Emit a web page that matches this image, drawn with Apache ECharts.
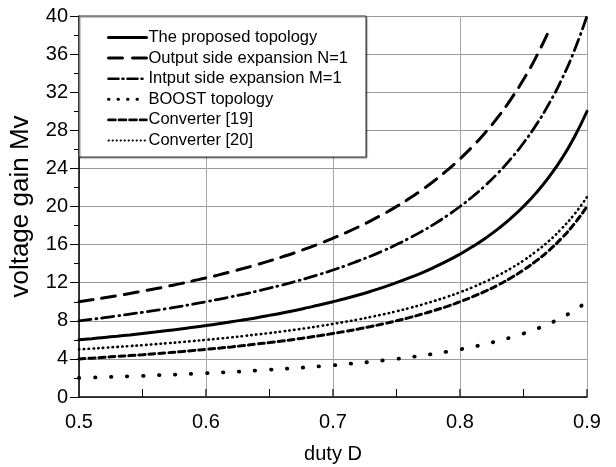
<!DOCTYPE html>
<html>
<head>
<meta charset="UTF-8">
<title>voltage gain</title>
<script src="https://cdn.jsdelivr.net/npm/echarts@6/dist/echarts.min.js"></script>
<style>
  html, body { margin: 0; padding: 0; background: #fff; }
  #main { width: 616px; height: 467px; }
</style>
</head>
<body>
<div id="main"></div>
<script>
// duty D
var duty = [0.50,0.51,0.52,0.53,0.54,0.55,0.56,0.57,0.58,0.59,
            0.60,0.61,0.62,0.63,0.64,0.65,0.66,0.67,0.68,0.69,
            0.70,0.71,0.72,0.73,0.74,0.75,0.76,0.77,0.78,0.79,
            0.80,0.81,0.82,0.83,0.84,0.85,0.86,0.87,0.88,0.89,0.90];
var proposed = [6.00,6.12,6.25,6.38,6.52,6.67,6.82,6.98,7.14,7.32,
                7.50,7.69,7.89,8.11,8.33,8.57,8.82,9.09,9.38,9.68,
                10.00,10.34,10.71,11.11,11.54,12.00,12.50,13.04,13.64,14.29,
                15.00,15.79,16.67,17.65,18.75,20.00,21.43,23.08,25.00,27.27,30.00];
var outputN1 = [10.00,10.20,10.42,10.64,10.87,11.11,11.36,11.63,11.90,12.20,
                12.50,12.82,13.16,13.51,13.89,14.29,14.71,15.15,15.63,16.13,
                16.67,17.24,17.86,18.52,19.23,20.00,20.83,21.74,22.73,23.81,
                25.00,26.32,27.78,29.41,31.25,33.33,35.71,38.46];
var inputM1 = [8.00,8.16,8.33,8.51,8.70,8.89,9.09,9.30,9.52,9.76,
               10.00,10.26,10.53,10.81,11.11,11.43,11.76,12.12,12.50,12.90,
               13.33,13.79,14.29,14.81,15.38,16.00,16.67,17.39,18.18,19.05,
               20.00,21.05,22.22,23.53,25.00,26.67,28.57,30.77,33.33,36.36,40.00];
var boost = [2.00,2.04,2.08,2.13,2.17,2.22,2.27,2.33,2.38,2.44,
             2.50,2.56,2.63,2.70,2.78,2.86,2.94,3.03,3.13,3.23,
             3.33,3.45,3.57,3.70,3.85,4.00,4.17,4.35,4.55,4.76,
             5.00,5.26,5.56,5.88,6.25,6.67,7.14,7.69,8.33,9.09,10.00];
var conv19 = [4.00,4.08,4.17,4.26,4.35,4.44,4.55,4.65,4.76,4.88,
              5.00,5.13,5.26,5.41,5.56,5.71,5.88,6.06,6.25,6.45,
              6.67,6.90,7.14,7.41,7.69,8.00,8.33,8.70,9.09,9.52,
              10.00,10.53,11.11,11.76,12.50,13.33,14.29,15.38,16.67,18.18,20.00];
var conv20 = [5.00,5.08,5.17,5.26,5.35,5.44,5.55,5.65,5.76,5.88,
              6.00,6.13,6.26,6.41,6.56,6.71,6.88,7.06,7.25,7.45,
              7.67,7.90,8.14,8.41,8.69,9.00,9.33,9.70,10.09,10.52,
              11.00,11.53,12.11,12.76,13.50,14.33,15.29,16.38,17.67,19.18,21.00];

var names = ['The proposed topology', 'Output side expansion N=1', 'Intput side expansion M=1',
             'BOOST topology', 'Converter [19]', 'Converter [20]'];

function pairs(ys) {
  var out = [];
  for (var i = 0; i < ys.length; i++) out.push([duty[i], ys[i]]);
  return out;
}

var font = '"Liberation Sans", Arial, sans-serif';

// plot dash patterns and legend dash patterns
var dashes = ['solid', [14, 9], [12, 5, 1, 5], [0.5, 15.5], [6, 4], [0.5, 4.3]];
var legendDashes = ['solid', [14, 10], [10, 4, 1, 4], [0.5, 9], [7, 3.5], [0.5, 3.5]];
var widths = [3, 3, 2.8, 3.8, 3, 2.6];
var legendWidths = [3, 3, 2.6, 3, 2.6, 1.8];

function line(i, ys) {
  return {
    name: names[i],
    type: 'line',
    symbol: 'circle',
    symbolSize: 0,
    showSymbol: false,
    smooth: true,
    data: pairs(ys),
    z: 3,
    lineStyle: { color: '#000', width: widths[i], type: dashes[i], cap: 'round' },
    itemStyle: { color: 'rgba(0,0,0,0)' }
  };
}

var legendData = names.map(function (n, i) {
  return {
    name: n,
    lineStyle: { color: '#000', width: legendWidths[i], type: legendDashes[i], cap: 'round' },
    itemStyle: { color: 'rgba(0,0,0,0)', borderWidth: 0, opacity: 0 }
  };
});

var myChart = echarts.init(document.getElementById('main'));
var option = {
  animation: false,
  backgroundColor: '#fff',
  grid: { left: 79, right: 29, top: 16, bottom: 70, outerBoundsMode: 'none', containLabel: false },
  legend: {
    orient: 'vertical',
    left: 79,
    top: 16,
    z: 10,
    data: legendData,
    backgroundColor: '#fff',
    borderColor: '#333',
    borderWidth: 1,
    padding: [13, 18, 8, 28],
    itemGap: 3.6,
    itemWidth: 38,
    itemHeight: 14,
    shadowColor: 'rgba(0,0,0,0.45)',
    shadowOffsetX: 1,
    shadowOffsetY: 1,
    shadowBlur: 1,
    textStyle: { fontFamily: font, fontSize: 16.5, lineHeight: 17, color: '#000', padding: [0, 0, 0, -3] }
  },
  xAxis: {
    type: 'value',
    min: 0.5,
    max: 0.9,
    interval: 0.1,
    name: 'duty D',
    nameLocation: 'middle',
    nameGap: 47,
    nameTextStyle: { fontFamily: font, fontSize: 20, color: '#000' },
    axisLine: { lineStyle: { color: '#000', width: 1.5 } },
    axisTick: { inside: true, length: 8, lineStyle: { color: '#333', width: 1.5 } },
    minorTick: { show: true, splitNumber: 2, length: 8, lineStyle: { color: '#000' } },
    axisLabel: { fontFamily: font, fontSize: 20, color: '#000', margin: 15,
                 formatter: function (v) { return v.toFixed(1); } },
    splitLine: { show: true, lineStyle: { color: '#a6a6a6', width: 1 } }
  },
  yAxis: {
    type: 'value',
    min: 0,
    max: 40,
    interval: 4,
    name: 'voltage gain Mv',
    nameLocation: 'middle',
    nameGap: 45,
    nameTextStyle: { fontFamily: font, fontSize: 26, color: '#000' },
    axisLine: { show: true, lineStyle: { color: '#000', width: 1.5 } },
    axisTick: { show: true, length: 9, lineStyle: { color: '#000' } },
    minorTick: { show: true, splitNumber: 2, length: 5, lineStyle: { color: '#000' } },
    axisLabel: { fontFamily: font, fontSize: 20, color: '#000', margin: 11 },
    splitLine: { show: true, lineStyle: { color: '#999', width: 1 } }
  },
  series: [
    line(0, proposed),
    line(1, outputN1),
    line(2, inputM1),
    line(3, boost),
    line(4, conv19),
    line(5, conv20)
  ]
};
myChart.setOption(option);
</script>
</body>
</html>
